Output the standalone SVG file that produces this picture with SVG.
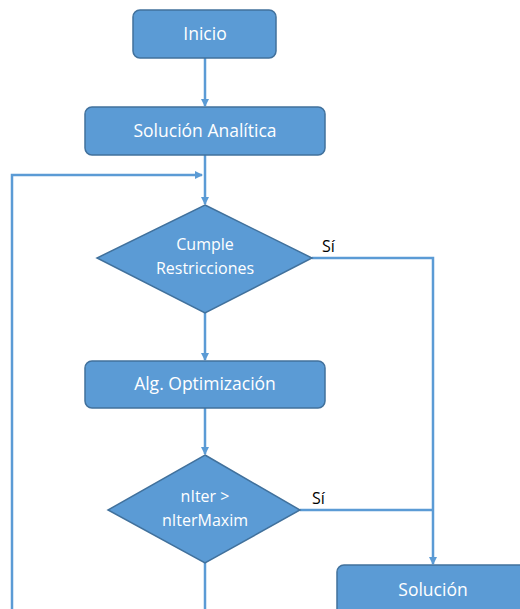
<svg xmlns="http://www.w3.org/2000/svg" width="520" height="609" viewBox="0 0 520 609">
<defs>
<style>
.box{fill:#5B9BD5;stroke:#41719C;stroke-width:1.5}
.t{font-family:"Open Sans","Liberation Sans",sans-serif;fill:#fff;text-anchor:middle}
.lbl{font-family:"Open Sans","Liberation Sans",sans-serif;fill:#000;font-size:16px}
.c{fill:none;stroke:#5B9BD5;stroke-width:2.5}
</style>
<marker id="ah" markerWidth="8" markerHeight="8" refX="7" refY="4" orient="auto" markerUnits="userSpaceOnUse">
<path d="M0,0 L8,4 L0,8 Z" fill="#5B9BD5"/>
</marker>
</defs>
<rect width="520" height="609" fill="#fff"/>
<g id="connectors">
<path class="c" d="M205,58 V106" marker-end="url(#ah)"/>
<path class="c" d="M205,155 V204" marker-end="url(#ah)"/>
<path class="c" d="M12,609 V175 H202" marker-end="url(#ah)"/>
<path class="c" d="M205,313 V360" marker-end="url(#ah)"/>
<path class="c" d="M205,408 V454" marker-end="url(#ah)"/>
<path class="c" d="M312,258 H433 V564" marker-end="url(#ah)"/>
<path class="c" d="M300,510 H433"/>
<path class="c" d="M205,563 V609"/>
</g>
<g id="inicio">
<rect class="box" x="133" y="10" width="143" height="48" rx="7"/>
<text class="t" x="205" y="40" font-size="17.5">Inicio</text>
</g>
<g id="solucion-analitica">
<rect class="box" x="85" y="107" width="240" height="48" rx="7"/>
<text class="t" x="205" y="137" font-size="17.5">Solución Analítica</text>
</g>
<g id="cumple">
<path class="box" d="M205,205 L312,258 L205,313 L97,258 Z"/>
<text class="t" x="205" y="250" font-size="16">Cumple</text>
<text class="t" x="205" y="274" font-size="16">Restricciones</text>
</g>
<text class="lbl" x="322" y="252">Sí</text>
<g id="alg">
<rect class="box" x="85" y="361" width="240" height="47" rx="7"/>
<text class="t" x="205" y="390" font-size="17.5">Alg. Optimización</text>
</g>
<g id="niter">
<path class="box" d="M205,455 L300,510 L205,563 L108,510 Z"/>
<text class="t" x="205" y="502" font-size="16">nIter &gt;</text>
<text class="t" x="205" y="526" font-size="16">nIterMaxim</text>
</g>
<text class="lbl" x="312" y="504">Sí</text>
<g id="solucion">
<rect class="box" x="337" y="565" width="200" height="60" rx="7"/>
<text class="t" x="433" y="596" font-size="17.5">Solución</text>
</g>
</svg>
